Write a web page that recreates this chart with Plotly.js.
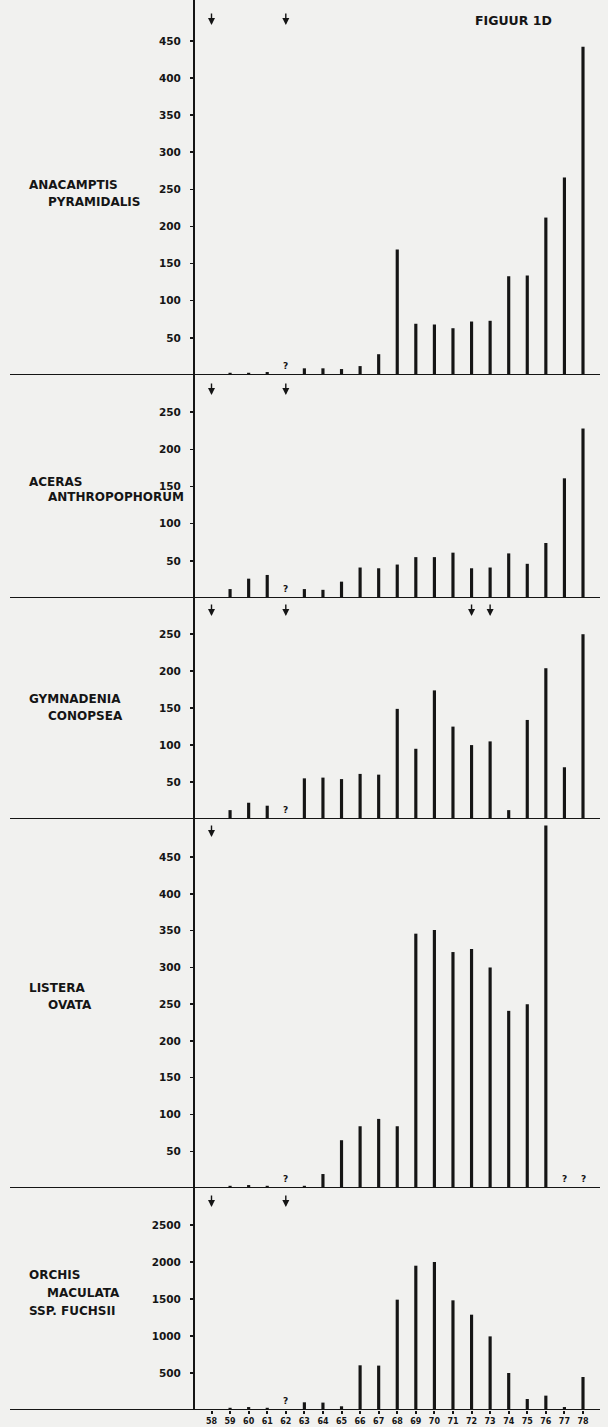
<!DOCTYPE html>
<html>
<head>
<meta charset="utf-8">
<script src="https://cdn.plot.ly/plotly-3.0.1.min.js"></script>
<style>
  html, body { margin: 0; padding: 0; background: #f1f1ef; }
  #chart { width: 608px; height: 1427px; }
</style>
</head>
<body>
<div id="chart"></div>
<script>
// ---------------- data ----------------
const years = [58, 59, 60, 61, 62, 63, 64, 65, 66, 67, 68, 69, 70, 71, 72, 73, 74, 75, 76, 77, 78];
const yearLabels = ['58', '59', '60', '61', '62', '63', '64', '65', '66', '67', '68', '69', '70', '71', '72', '73', '74', '75', '76', '77', '78'];

const anacamptis = [0, 3, 3, 4, null, 9, 9, 8, 12, 28, 169, 69, 68, 63, 72, 73, 133, 134, 212, 266, 442];
const aceras     = [0, 12, 26, 31, null, 12, 11, 22, 41, 40, 45, 55, 55, 61, 40, 41, 60, 46, 74, 161, 228];
const gymnadenia = [0, 12, 22, 18, null, 55, 56, 54, 61, 60, 149, 95, 174, 125, 100, 105, 12, 134, 204, 70, 250];
const listera    = [0, 3, 4, 3, null, 3, 19, 65, 84, 94, 84, 346, 351, 321, 325, 300, 241, 250, 493, null, null];
const orchis     = [0, 30, 40, 30, null, 104, 100, 50, 604, 600, 1491, 1950, 2000, 1482, 1288, 995, 500, 149, 194, 40, 446];

const anacamptisTicks = [50, 100, 150, 200, 250, 300, 350, 400, 450];
const acerasTicks     = [50, 100, 150, 200, 250];
const gymnadeniaTicks = [50, 100, 150, 200, 250];
const listeraTicks    = [50, 100, 150, 200, 250, 300, 350, 400, 450];
const orchisTicks     = [500, 1000, 1500, 2000, 2500];

const anacamptisArrows = [58, 62];
const acerasArrows     = [58, 62];
const gymnadeniaArrows = [58, 62, 72, 73];
const listeraArrows    = [58];
const orchisArrows     = [58, 62];

const anacamptisQuery = [62];
const acerasQuery     = [62];
const gymnadeniaQuery = [62];
const listeraQuery    = [62, 77, 78];
const orchisQuery     = [62];

const anacamptisName = ['ANACAMPTIS', 'PYRAMIDALIS'];
const acerasName     = ['ACERAS', 'ANTHROPOPHORUM'];
const gymnadeniaName = ['GYMNADENIA', 'CONOPSEA'];
const listeraName    = ['LISTERA', 'OVATA'];
const orchisName     = ['ORCHIS', 'MACULATA', 'SSP. FUCHSII'];

const figureTitle = 'FIGUUR 1D';

// ---------------- layout geometry ----------------
const W = 608, H = 1427;
const plotH = 1410;               // plot area height (margin b = 17)
const ink = '#151515';
const axisX = 194 / W;            // vertical axis position (paper)
const py = p => (plotH - p) / plotH;  // pixel y -> paper y

const panels = [
  { vals: anacamptis, ticks: anacamptisTicks, top: 0,    base: 375,  max: 505,  arrows: anacamptisArrows, arrowTip: 25,   q: anacamptisQuery,
    name: anacamptisName, nx: [27, 46],     ny: [185, 202] },
  { vals: aceras,     ticks: acerasTicks,     top: 375,  base: 598,  max: 300,  arrows: acerasArrows,     arrowTip: 395,  q: acerasQuery,
    name: acerasName,     nx: [27, 46],     ny: [482, 497] },
  { vals: gymnadenia, ticks: gymnadeniaTicks, top: 598,  base: 819,  max: 299,  arrows: gymnadeniaArrows, arrowTip: 616,  q: gymnadeniaQuery,
    name: gymnadeniaName, nx: [27, 46],     ny: [699, 716] },
  { vals: listera,    ticks: listeraTicks,    top: 819,  base: 1188, max: 502,  arrows: listeraArrows,    arrowTip: 837,  q: listeraQuery,
    name: listeraName,    nx: [27, 46],     ny: [988, 1005] },
  { vals: orchis,     ticks: orchisTicks,     top: 1188, base: 1410, max: 3000, arrows: orchisArrows,     arrowTip: 1207, q: orchisQuery,
    name: orchisName,     nx: [27, 45, 27], ny: [1275, 1293, 1311] }
];

const data = [];
const layout = {
  width: W, height: H,
  margin: { l: 0, r: 0, t: 0, b: H - plotH, pad: 0 },
  paper_bgcolor: '#f1f1ef',
  plot_bgcolor: 'rgba(0,0,0,0)',
  showlegend: false,
  barmode: 'overlay',
  font: { family: 'DejaVu Sans', color: ink },
  xaxis: {
    range: [46.614, 79.346],
    anchor: 'y5',
    tickvals: years, ticktext: yearLabels,
    ticks: 'outside', ticklen: 3, tickwidth: 2, tickcolor: ink,
    tickfont: { family: 'DejaVu Sans', size: 8, weight: 'bold', color: ink },
    showgrid: false, zeroline: false, showline: false, fixedrange: true
  },
  shapes: [],
  annotations: []
};

panels.forEach((p, i) => {
  const n = i + 1;
  const yName = n === 1 ? 'yaxis' : 'yaxis' + n;
  const yRef = n === 1 ? 'y' : 'y' + n;

  layout[yName] = {
    domain: [py(p.base), py(p.top)],
    range: [0, p.max],
    anchor: 'free', position: axisX,
    showline: true, linewidth: 2, linecolor: ink,
    ticks: 'outside', ticklen: 3, tickwidth: 1.5, tickcolor: ink,
    tickvals: p.ticks,
    tickfont: { family: 'DejaVu Sans', size: 10.5, weight: 'bold', color: ink },
    ticklabelstandoff: 7,
    showgrid: false, zeroline: false, fixedrange: true
  };

  data.push({
    type: 'bar', x: years, y: p.vals,
    xaxis: 'x', yaxis: yRef,
    width: 0.17,
    marker: { color: ink, line: { width: 0 } },
    hoverinfo: 'x+y'
  });

  // baseline across the full width
  layout.shapes.push({
    type: 'line', xref: 'paper', yref: yRef,
    x0: 10 / W, x1: 600 / W, y0: 0, y1: 0,
    line: { color: ink, width: 1.8 }
  });

  // question marks
  p.q.forEach(yr => {
    layout.annotations.push({
      x: yr, xref: 'x', y: 0, yref: yRef,
      text: '?', showarrow: false, yanchor: 'bottom', yshift: 2,
      font: { family: 'DejaVu Sans', size: 9, weight: 'bold', color: ink }
    });
  });

  // arrows
  p.arrows.forEach(yr => {
    layout.annotations.push({
      x: yr, xref: 'x', y: py(p.arrowTip), yref: 'paper',
      text: '', showarrow: true, ax: 0, ay: -13,
      arrowhead: 2, arrowsize: 1, arrowwidth: 1.4, arrowcolor: ink, standoff: 0
    });
  });

  // species name
  p.name.forEach((line, k) => {
    layout.annotations.push({
      x: p.nx[k] / W, xref: 'paper', y: py(p.ny[k]), yref: 'paper',
      xanchor: 'left', yanchor: 'middle', showarrow: false,
      text: line,
      font: { family: 'DejaVu Sans', size: 12, weight: 'bold', color: ink }
    });
  });
});

layout.annotations.push({
  x: 473 / W, xref: 'paper', y: py(20), yref: 'paper',
  xanchor: 'left', yanchor: 'middle', showarrow: false,
  text: figureTitle,
  font: { family: 'DejaVu Sans', size: 12.5, weight: 'bold', color: ink }
});

Plotly.newPlot('chart', data, layout, { displayModeBar: false, staticPlot: true });
</script>
</body>
</html>
